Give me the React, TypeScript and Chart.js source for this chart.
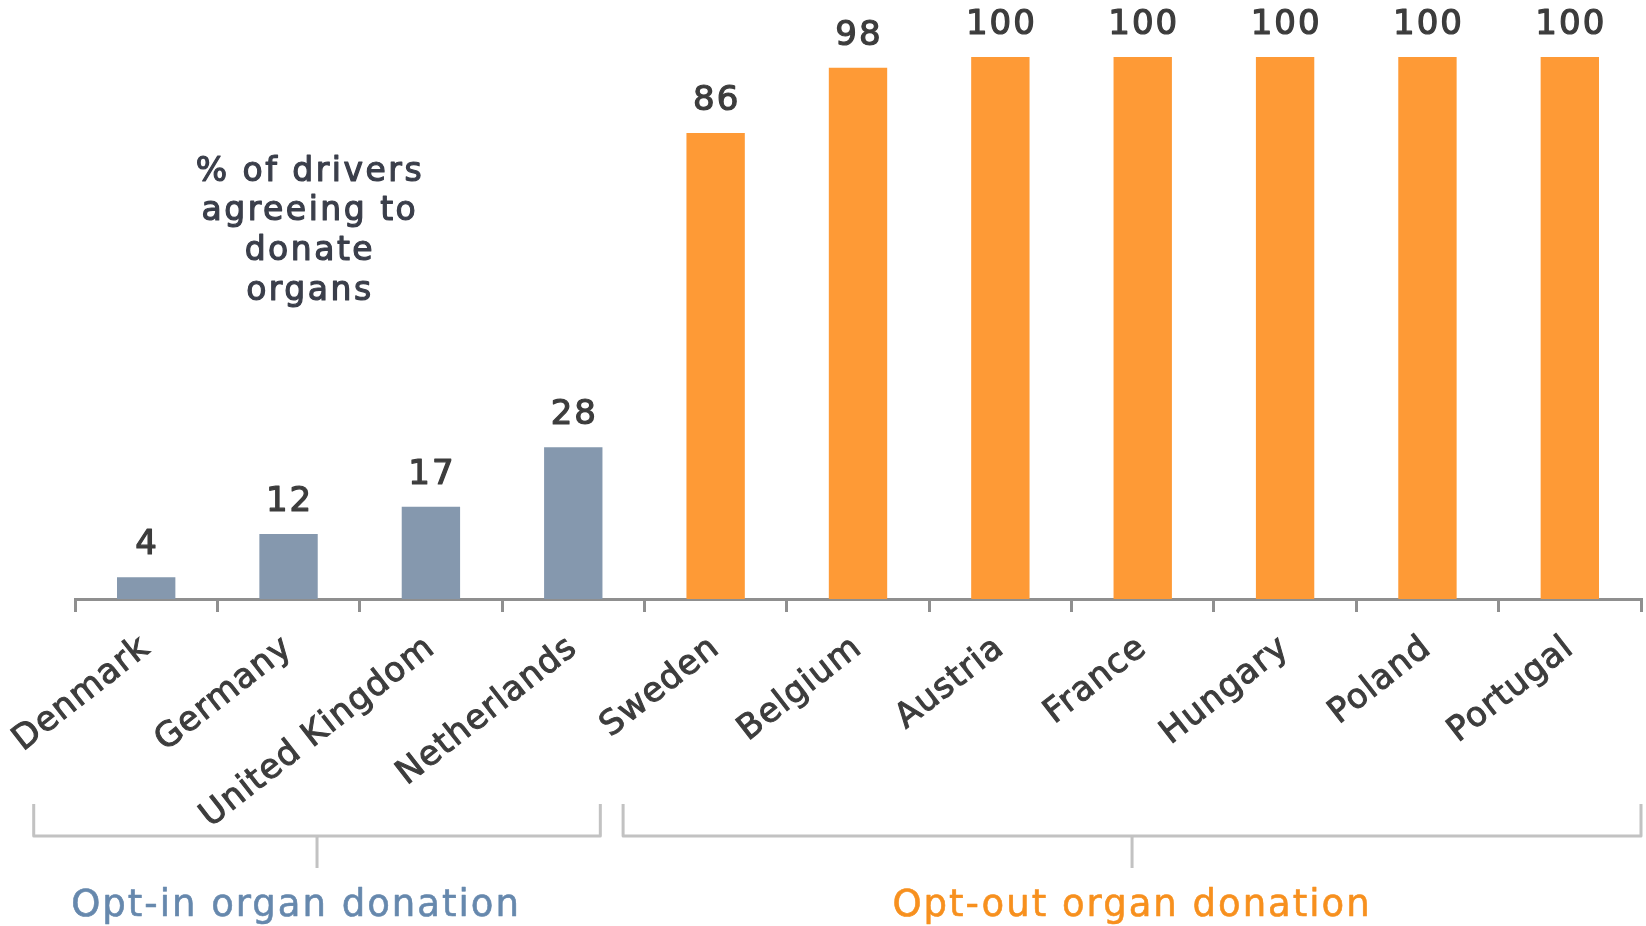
import React, { useEffect, useRef } from "react";
import { Chart, registerables } from "chart.js";

Chart.register(...registerables);

const optInCountries = ["Denmark", "Germany", "United Kingdom", "Netherlands"];
const optInValues = [4, 12, 17, 28];
const optOutCountries = ["Sweden", "Belgium", "Austria", "France", "Hungary", "Poland", "Portugal"];
const optOutValues = [86, 98, 100, 100, 100, 100, 100];

const categories = [...optInCountries, ...optOutCountries];
const values = [...optInValues, ...optOutValues];

const annotationLines = ["% of drivers", "agreeing to", "donate", "organs"];
const groupLabels = ["Opt-in organ donation", "Opt-out organ donation"];

const GRAY = "#8598ae";
const ORANGE = "#fe9a36";
const AXIS = "#8f8f8f";
const TEXT = "#3c3c3c";
const FONT = "'DejaVu Sans', sans-serif";

const colors = [
  ...optInValues.map(() => GRAY),
  ...optOutValues.map(() => ORANGE),
];

function boldText(ctx: any, s: string, x: number, y: number, w: number) {
  ctx.lineWidth = w;
  ctx.lineJoin = "round";
  ctx.strokeStyle = ctx.fillStyle;
  ctx.strokeText(s, x, y);
  ctx.fillText(s, x, y);
}

const decorPlugin = {
  id: "decor",
  beforeDraw(chart: any) {
    (chart.ctx as any).letterSpacing = "1px";
  },
  afterDatasetsDraw(chart: any) {
    const ctx = chart.ctx;
    const meta = chart.getDatasetMeta(0);
    ctx.save();
    ctx.fillStyle = TEXT;
    ctx.font = `34px ${FONT}`;
    ctx.textAlign = "center";
    ctx.textBaseline = "middle";
    (ctx as any).letterSpacing = "2px";
    meta.data.forEach((bar: any, i: number) => {
      boldText(ctx, String(values[i]), bar.x + 1, bar.y - 32, 1.2);
    });
    ctx.restore();
  },
  afterDraw(chart: any) {
    const ctx = chart.ctx;
    const x = chart.scales.x;
    const step = x.getPixelForValue(1) - x.getPixelForValue(0);
    ctx.save();
    // annotation
    ctx.fillStyle = "#3a3e4a";
    ctx.font = `33px ${FONT}`;
    ctx.textAlign = "center";
    ctx.textBaseline = "middle";
    (ctx as any).letterSpacing = "2.5px";
    const ax = x.getPixelForValue(1.15);
    annotationLines.forEach((line, i) => {
      boldText(ctx, line, ax, 172 + i * 39.7, 1.2);
    });

    // brackets
    const nIn = optInValues.length;
    const n = values.length;
    const topY = 804;
    const barY = 836;
    const stemY = 868;
    const b1L = x.getPixelForValue(0) - step * 0.79;
    const b1R = x.getPixelForValue(nIn - 1) + step * 0.19;
    const b2L = x.getPixelForValue(nIn) - step * 0.65;
    const b2R = x.getPixelForValue(n - 1) + step * 0.5;
    ctx.strokeStyle = "#c2c2c2";
    ctx.lineWidth = 3;
    ctx.lineCap = "butt";
    const bracket = (l: number, r: number, mid: number) => {
      ctx.beginPath();
      ctx.moveTo(l, topY);
      ctx.lineTo(l, barY);
      ctx.lineTo(r, barY);
      ctx.lineTo(r, topY);
      ctx.stroke();
      ctx.beginPath();
      ctx.moveTo(mid, barY);
      ctx.lineTo(mid, stemY);
      ctx.stroke();
    };
    const m1 = (b1L + b1R) / 2;
    const m2 = (b2L + b2R) / 2;
    bracket(b1L, b1R, m1);
    bracket(b2L, b2R, m2);

    ctx.font = `37px ${FONT}`;
    (ctx as any).letterSpacing = "2px";
    ctx.fillStyle = "#6688ad";
    boldText(ctx, groupLabels[0], m1 - 21, 906, 0.6);
    ctx.fillStyle = "#f7901e";
    boldText(ctx, groupLabels[1], m2, 906, 0.6);
    ctx.restore();
  },
};

export default function App() {
  const ref = useRef<HTMLCanvasElement>(null);
  useEffect(() => {
    document.body.style.margin = "0";
    const chart = new Chart(ref.current!, {
      type: "bar",
      data: {
        labels: categories,
        datasets: [
          {
            data: values,
            backgroundColor: colors,
            borderWidth: 0,
            barPercentage: 0.41,
            categoryPercentage: 1,
          },
        ],
      },
      options: {
        animation: false,
        responsive: false,
        layout: { padding: { left: 75, right: 5, top: 57, bottom: 0 } },
        plugins: { legend: { display: false }, tooltip: { enabled: false } },
        scales: {
          y: { display: false, min: 0, max: 100 },
          x: {
            border: { display: true, color: AXIS, width: 3 },
            grid: {
              display: true,
              drawOnChartArea: false,
              drawTicks: true,
              tickLength: 13,
              color: AXIS,
              lineWidth: 3,
              offset: true,
            },
            ticks: {
              autoSkip: false,
              minRotation: 38,
              maxRotation: 38,
              padding: 16,
              color: TEXT,
              textStrokeColor: TEXT,
              textStrokeWidth: 1,
              font: { family: FONT, size: 34 },
            },
            afterFit: (scale: any) => {
              scale.height = 926 - 599;
              scale.paddingLeft = 0;
              scale.paddingRight = 0;
            },
          },
        },
      },
      plugins: [decorPlugin],
    });
    return () => chart.destroy();
  }, []);
  return (
    <div style={{ position: "fixed", left: 0, top: 0, width: 1646, height: 926, background: "#fff" }}>
      <canvas ref={ref} width={1646} height={926} />
    </div>
  );
}
